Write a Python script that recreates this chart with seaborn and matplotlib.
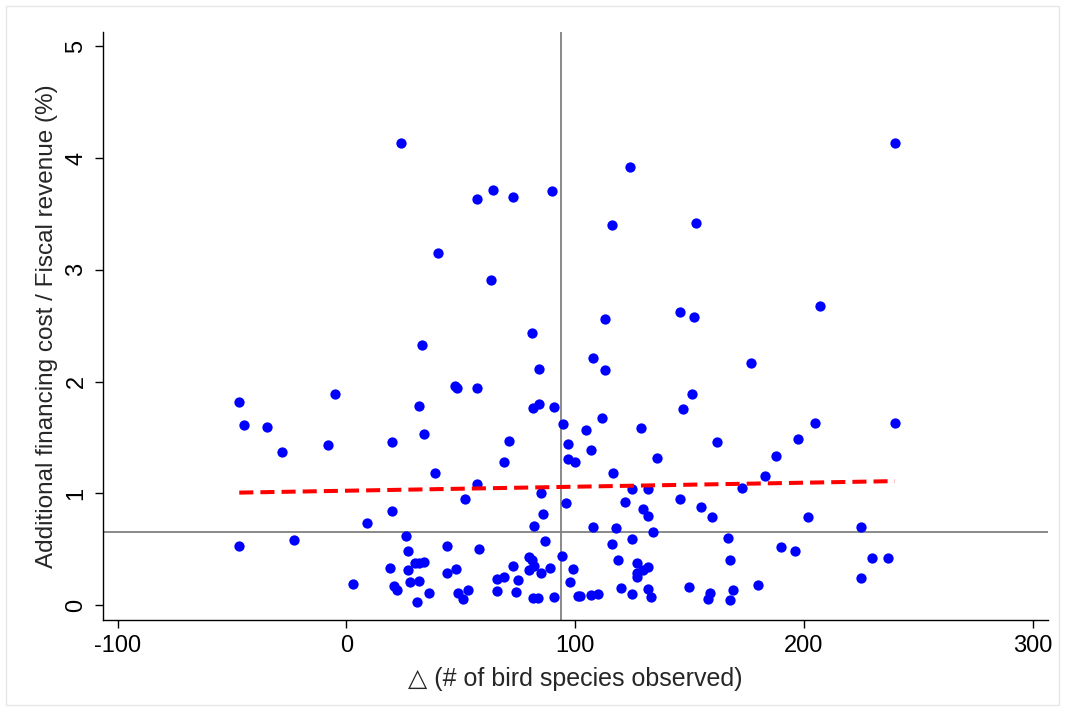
import numpy as np
import pandas as pd
import matplotlib
matplotlib.use('Agg')
import matplotlib.pyplot as plt
import seaborn as sns
from matplotlib.patches import Rectangle

# change in number of bird species observed
delta_species = [
    24.0, 57.0, 64.0, 73.0, 90.0, 39.9, 63.1, 81.0, 33.0, 84.1,
    239.8, 124.0, 116.0, 153.0, 112.9, 145.8, 151.9, 206.9, 107.9, 112.9,
    176.9, -46.8, -5.0, 47.5, 48.2, 57.0, 81.7, 84.1, 90.9, -44.9,
    -34.8, 31.9, 94.8, -27.9, -7.9, 19.9, 34.1, 71.1, 68.9, 96.9,
    96.9, 99.9, 38.9, 57.0, 52.0, 84.9, 85.8, 95.9, 19.9, 9.0,
    82.0, -46.8, -22.9, 26.1, 26.9, 44.0, 58.1, 87.0, 94.1, 19.1,
    26.9, 30.0, 31.9, 34.1, 44.0, 47.9, 27.8, 31.9, 3.0, 20.9,
    22.0, 31.0, 36.0, 48.9, 51.1, 53.0, 66.0, 68.9, 66.0, 73.0,
    75.2, 74.0, 80.0, 81.0, 82.0, 80.0, 84.9, 89.0, 81.7, 83.6,
    90.9, 98.9, 97.9, 101.1, 151.0, 147.0, 104.9, 111.9, 128.9, 204.7,
    239.8, 197.6, 161.9, 106.8, 187.8, 135.8, 116.7, 182.9, 124.9, 131.9,
    172.8, 121.9, 129.8, 131.9, 145.8, 155.0, 159.8, 201.7, 107.9, 118.0,
    133.9, 224.8, 125.0, 167.0, 116.0, 190.0, 196.0, 118.9, 127.0, 131.9,
    129.8, 126.9, 126.9, 167.8, 229.8, 236.8, 119.9, 124.9, 131.9, 133.0,
    149.9, 159.0, 158.0, 168.9, 167.8, 179.9, 224.8, 102.0, 106.8, 110.1,
]

# additional financing cost / fiscal revenue (%)
cost_share = [
    4.13, 3.63, 3.71, 3.655, 3.706, 3.154, 2.91, 2.43, 2.33, 2.11,
    4.13, 3.92, 3.40, 3.42, 2.56, 2.62, 2.58, 2.68, 2.21, 2.10,
    2.17, 1.82, 1.89, 1.96, 1.94, 1.945, 1.76, 1.80, 1.775, 1.61,
    1.59, 1.78, 1.62, 1.37, 1.43, 1.456, 1.53, 1.47, 1.28, 1.444,
    1.31, 1.28, 1.18, 1.083, 0.946, 1.003, 0.817, 0.916, 0.84, 0.73,
    0.707, 0.53, 0.58, 0.62, 0.48, 0.53, 0.50, 0.573, 0.44, 0.33,
    0.31, 0.38, 0.38, 0.385, 0.29, 0.32, 0.206, 0.218, 0.188, 0.173,
    0.134, 0.027, 0.105, 0.11, 0.056, 0.134, 0.233, 0.25, 0.128, 0.346,
    0.227, 0.119, 0.43, 0.40, 0.35, 0.31, 0.286, 0.328, 0.065, 0.065,
    0.074, 0.322, 0.203, 0.084, 1.89, 1.75, 1.57, 1.67, 1.58, 1.63,
    1.63, 1.49, 1.46, 1.39, 1.334, 1.316, 1.18, 1.158, 1.04, 1.04,
    1.05, 0.92, 0.862, 0.80, 0.95, 0.877, 0.788, 0.785, 0.696, 0.69,
    0.654, 0.70, 0.594, 0.597, 0.546, 0.516, 0.486, 0.40, 0.373, 0.343,
    0.313, 0.29, 0.248, 0.40, 0.424, 0.418, 0.155, 0.10, 0.14, 0.072,
    0.158, 0.11, 0.056, 0.137, 0.048, 0.176, 0.244, 0.08, 0.087, 0.10,
]

# reference lines
x_ref = 93.8
y_ref = 0.654

x_ticks = [-100, 0, 100, 200, 300]
y_ticks = [0, 1, 2, 3, 4, 5]

df = pd.DataFrame({'delta': delta_species, 'cost': cost_share})

sns.set_theme(style='ticks')
plt.rcParams['font.family'] = ['Liberation Sans', 'DejaVu Sans']
plt.rcParams['axes.unicode_minus'] = False

fig = plt.figure(figsize=(10.65, 7.11), dpi=100)
ax = fig.add_axes([0.0964, 0.128, 0.8876, 0.8274])

# faint outer frame like the Stata graph region
fig.patches.append(Rectangle((6 / 1065, 6 / 711), 1 - 12 / 1065, 1 - 12 / 711,
                             transform=fig.transFigure, fill=False,
                             edgecolor='#e6e6e6', linewidth=1))

ax.axvline(x_ref, color='#808080', linewidth=1.3, zorder=1)
ax.axhline(y_ref, color='#808080', linewidth=1.3, zorder=1)

sns.scatterplot(data=df, x='delta', y='cost', ax=ax, color='#0000ff',
                s=55, linewidth=0, zorder=3)
sns.regplot(data=df, x='delta', y='cost', ax=ax, scatter=False, ci=None,
            line_kws={'color': '#ff0000', 'linewidth': 2.9,
                      'linestyle': (0, (3.5, 1.75)), 'zorder': 4})

ax.set_xlim(-106.5, 306.7)
ax.set_ylim(-0.134, 5.13)
ax.set_xticks(x_ticks)
ax.set_yticks(y_ticks)
ax.tick_params(axis='both', labelsize=17, length=6, width=1, color='black',
               labelcolor='black', pad=5)
plt.setp(ax.get_yticklabels(), rotation=90, va='center')

ax.set_xlabel('\u25b3 (# of bird species observed)', fontsize=18, labelpad=7)
ax.set_ylabel('Additional financing cost / Fiscal revenue (%)', fontsize=17.5,
              labelpad=5)

sns.despine(ax=ax)
for side in ['left', 'bottom']:
    ax.spines[side].set_color('black')
    ax.spines[side].set_linewidth(1)

fig.savefig('out.png', dpi=100)
